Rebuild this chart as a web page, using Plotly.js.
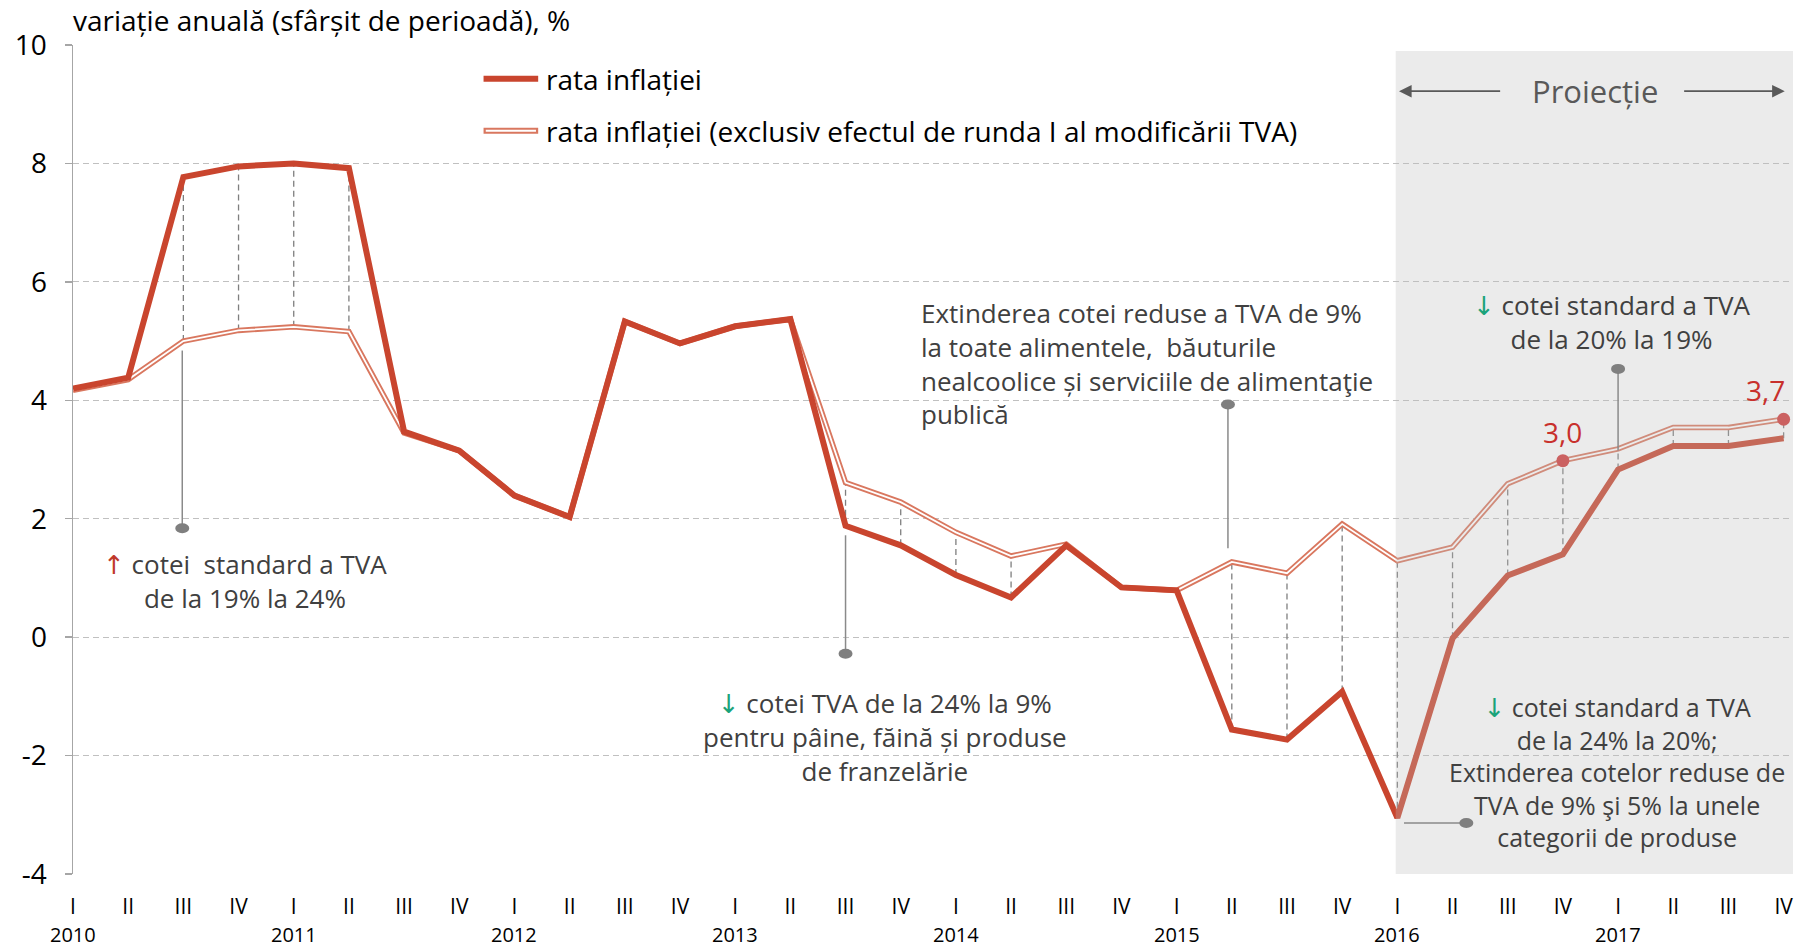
<!DOCTYPE html>
<html>
<head>
<meta charset="utf-8">
<script src="https://cdn.plot.ly/plotly-3.0.1.min.js"></script>
<style>html,body{margin:0;padding:0;background:#fff;}</style>
</head>
<body>
<div id="chart" style="width:1798px;height:947px;"></div>
<script>
// ---- data ----
const quarters = ['I','II','III','IV','I','II','III','IV','I','II','III','IV','I','II','III','IV',
                  'I','II','III','IV','I','II','III','IV','I','II','III','IV','I','II','III','IV'];
const years = ['2010','2011','2012','2013','2014','2015','2016','2017'];
const inflation = [4.20, 4.38, 7.77, 7.95, 8.00, 7.92, 3.47, 3.15, 2.39, 2.03, 5.33, 4.96, 5.25, 5.37, 1.88, 1.55,
                   1.05, 0.67, 1.55, 0.84, 0.79, -1.56, -1.73, -0.92, -3.05, -0.02, 1.04, 1.40, 2.83, 3.23, 3.23, 3.36];
const inflationExVat = [4.17, 4.35, 5.00, 5.18, 5.24, 5.16, 3.45, 3.15, 2.39, 2.03, 5.33, 4.96, 5.25, 5.37, 2.61, 2.28,
                        1.77, 1.37, 1.57, 0.84, 0.79, 1.27, 1.08, 1.91, 1.29, 1.52, 2.59, 2.98, 3.18, 3.54, 3.54, 3.68];
const yTicks = [-4, -2, 0, 2, 4, 6, 8, 10];
const labelledPoints = [27, 31];
const projectionStartQuarter = 24;
const seriesNames = ['rata inflației', 'rata inflației (exclusiv efectul de runda I al modificării TVA)'];

// ---- style ----
const FONT = '"Open Sans", "Noto Sans", sans-serif';
const RED = '#C9452E';
const RED_LIGHT = '#D9775F';
const GREY_TXT = '#404040';
const GREEN = '#1AA37A';

const idx = quarters.map((q, i) => i);

// high-low lines
const hlX = [], hlY = [];
idx.forEach(i => {
  const a = inflation[i], b = inflationExVat[i];
  if (Math.abs(a - b) > 0.1) {
    hlX.push(i, i, null);
    hlY.push(Math.min(a, b), Math.max(a, b), null);
  }
});

const traces = [
  {x: hlX, y: hlY, mode: 'lines', line: {color: '#7F7F7F', width: 1.3, dash: '6px,4px'},
   showlegend: false, hoverinfo: 'skip'},
  {x: idx, y: inflationExVat, mode: 'lines', name: seriesNames[1],
   line: {color: RED_LIGHT, width: 5.5}, showlegend: false},
  {x: idx, y: inflationExVat, mode: 'lines', line: {color: '#FFFFFF', width: 1.8},
   showlegend: false, hoverinfo: 'skip'},
  {x: idx, y: inflation, mode: 'lines', name: seriesNames[0],
   line: {color: RED, width: 6}, showlegend: false},
  {x: labelledPoints, y: labelledPoints.map(i => inflationExVat[i]), mode: 'markers',
   marker: {color: '#D23A3A', size: 13}, showlegend: false, hoverinfo: 'skip'}
];

const shapes = [];
// projection shade (overlay)
shapes.push({type: 'rect', xref: 'x', yref: 'y', layer: 'above',
  x0: projectionStartQuarter - 0.03, x1: 31.3, y0: -4, y1: 9.9,
  fillcolor: 'rgba(190,190,190,0.30)', line: {width: 0}});

// callouts
function callout(xl0, yl0, xl1, yl1, ox, oy) {
  shapes.push({type: 'line', xref: 'x', yref: 'y', layer: 'above', x0: xl0, y0: yl0, x1: xl1, y1: yl1,
    line: {color: '#8A8A8A', width: 1.5}});
  shapes.push({type: 'circle', xref: 'x', yref: 'y', layer: 'above', xsizemode: 'pixel', ysizemode: 'pixel',
    xanchor: ox, yanchor: oy, x0: -7, x1: 7, y0: -5, y1: 5, fillcolor: '#7F7F7F', line: {width: 0}});
}
callout(1.98, 4.84, 1.98, 1.84, 1.98, 1.84);
callout(14.0, 1.72, 14.0, -0.28, 14.0, -0.28);
callout(20.93, 1.50, 20.93, 3.93, 20.93, 3.93);
callout(28.0, 3.15, 28.0, 4.53, 28.0, 4.53);
callout(24.12, -3.14, 25.25, -3.14, 25.25, -3.14);

// legend (manual)
shapes.push({type: 'line', xref: 'x', yref: 'y', x0: 7.44, x1: 8.43, y0: 9.43, y1: 9.43,
  line: {color: RED, width: 6}});
shapes.push({type: 'line', xref: 'x', yref: 'y', x0: 7.44, x1: 8.43, y0: 8.55, y1: 8.55,
  line: {color: RED_LIGHT, width: 6}});
shapes.push({type: 'line', xref: 'x', yref: 'y', x0: 7.48, x1: 8.39, y0: 8.55, y1: 8.55,
  line: {color: '#FFFFFF', width: 2}});

const annotations = [];
// legend text
annotations.push({x: 8.54, y: 9.43, xref: 'x', yref: 'y', xanchor: 'left', yanchor: 'middle',
  text: seriesNames[0], showarrow: false, font: {family: FONT, size: 28, color: '#000'}});
annotations.push({x: 8.54, y: 8.55, xref: 'x', yref: 'y', xanchor: 'left', yanchor: 'middle',
  text: seriesNames[1], showarrow: false, font: {family: FONT, size: 28, color: '#000'}});

// year labels
years.forEach((yr, k) => {
  annotations.push({x: k * 4, y: 0, xref: 'x', yref: 'paper', yanchor: 'middle', yshift: -60,
    text: yr, showarrow: false, borderpad: 0, font: {family: FONT, size: 20, color: '#000'}});
});

// text notes
const noteFont = {family: FONT, size: 26, color: GREY_TXT};
const ARW = 'font-family:DejaVu Sans;font-size:26px;';
const up = '<span style="' + ARW + 'color:#C0392B">↑</span>';
const down = '<span style="' + ARW + 'color:' + GREEN + '">↓</span>';
annotations.push({x: 3.12, y: 0.94, xref: 'x', yref: 'y', showarrow: false, align: 'center',
  text: up + ' cotei  standard a TVA<br>de la 19% la 24%', font: noteFont});
annotations.push({x: 14.72, y: -1.69, xref: 'x', yref: 'y', showarrow: false, align: 'center',
  text: down + ' cotei TVA de la 24% la 9%<br>pentru pâine, făină și produse<br>de franzelărie', font: noteFont});
annotations.push({x: 15.34, y: 4.62, xref: 'x', yref: 'y', xanchor: 'left', showarrow: false, align: 'left',
  text: 'Extinderea cotei reduse a TVA de 9%<br>la toate alimentele,  băuturile<br>nealcoolice și serviciile de alimentaţie<br>publică', font: noteFont});
annotations.push({x: 27.89, y: 5.32, xref: 'x', yref: 'y', showarrow: false, align: 'center',
  text: down + ' cotei standard a TVA<br>de la 20% la 19%', font: noteFont});
annotations.push({x: 27.98, y: -2.27, xref: 'x', yref: 'y', showarrow: false, align: 'center',
  text: down + ' cotei standard a TVA<br>de la 24% la 20%;<br>Extinderea cotelor reduse de<br>TVA de 9% şi 5% la unele<br>categorii de produse',
  font: {family: FONT, size: 25, color: GREY_TXT}});

// projection header
annotations.push({x: 27.58, y: 9.22, xref: 'x', yref: 'y', showarrow: false, text: 'Proiecție',
  font: {family: FONT, size: 31, color: '#595959'}});
annotations.push({x: 24.03, y: 9.22, ax: 25.89, ay: 9.22, xref: 'x', yref: 'y', axref: 'x', ayref: 'y',
  text: '', showarrow: true, arrowhead: 2, arrowsize: 1.4, arrowwidth: 1.8, arrowcolor: '#595959'});
annotations.push({x: 31.02, y: 9.22, ax: 29.17, ay: 9.22, xref: 'x', yref: 'y', axref: 'x', ayref: 'y',
  text: '', showarrow: true, arrowhead: 2, arrowsize: 1.4, arrowwidth: 1.8, arrowcolor: '#595959'});

// data labels
labelledPoints.forEach((i, k) => {
  annotations.push({x: i, y: inflationExVat[i], xref: 'x', yref: 'y', showarrow: false,
    yanchor: 'middle', yshift: 29, xshift: (i === quarters.length - 1) ? -18 : 0,
    text: inflationExVat[i].toFixed(1).replace('.', ','),
    font: {family: FONT, size: 28, color: '#C8302C'}});
});

const layout = {
  width: 1798, height: 947,
  margin: {l: 73, r: 5, t: 45, b: 73},
  paper_bgcolor: '#fff', plot_bgcolor: '#fff',
  font: {family: FONT, color: '#000'},
  title: {text: 'variație anuală (sfârșit de perioadă), %', font: {family: FONT, size: 28, color: '#000'},
    xref: 'paper', x: 0, xanchor: 'left', yref: 'container', y: 0.978, yanchor: 'middle'},
  xaxis: {range: [0, 31.17], tickmode: 'array', tickvals: idx, ticktext: quarters,
    showgrid: false, zeroline: false, showline: false, ticks: '', ticklabelstandoff: 18,
    tickfont: {family: FONT, size: 21, color: '#000'}, fixedrange: true},
  yaxis: {range: [-4, 10], tickmode: 'array', tickvals: yTicks, ticktext: yTicks.map(v => String(v)),
    showgrid: true, gridcolor: '#C0C0C0', gridwidth: 1, griddash: '6px,4px',
    zeroline: false, showline: true, linecolor: '#A6A6A6', linewidth: 1.5,
    ticks: 'outside', ticklen: 7, tickcolor: '#A6A6A6', tickwidth: 1.5, ticklabelstandoff: 12,
    tickfont: {family: FONT, size: 28, color: '#000'}, fixedrange: true},
  shapes: shapes,
  annotations: annotations,
  showlegend: false
};

Plotly.newPlot('chart', traces, layout, {displayModeBar: false, staticPlot: true});
</script>
</body>
</html>
